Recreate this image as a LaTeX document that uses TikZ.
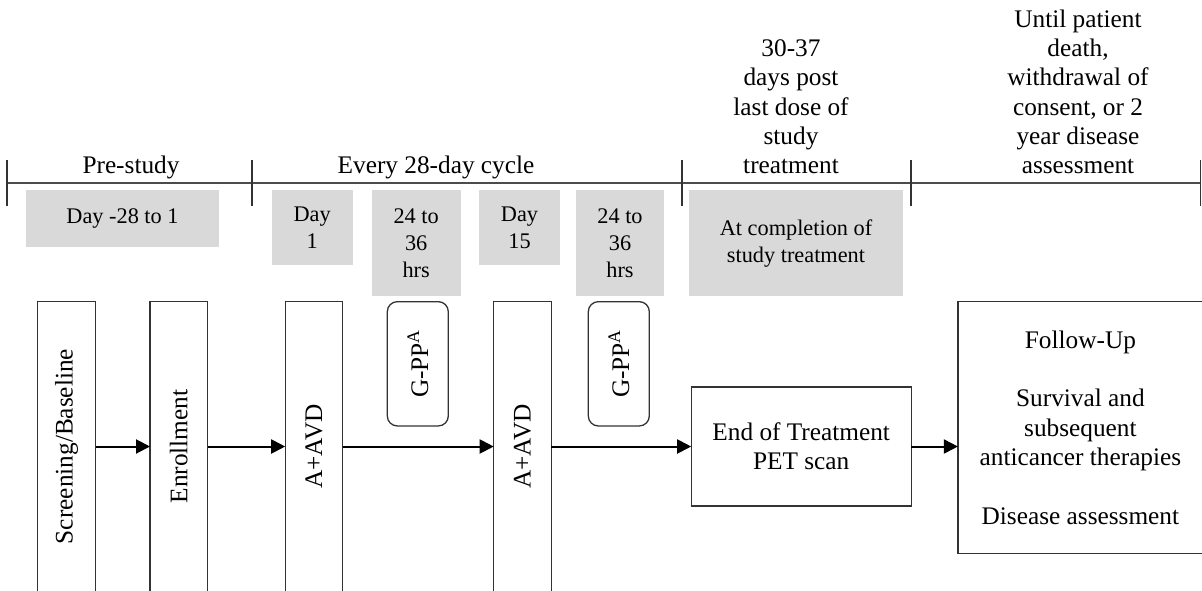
\documentclass[tikz,border=0pt]{standalone}
\usepackage{fontspec}
\setmainfont{Liberation Serif}
\usetikzlibrary{positioning,arrows.meta}
\definecolor{timegray}{HTML}{D9D9D9}
\newcommand{\bigfont}{\fontsize{25.3}{29.3}\selectfont}
\newcommand{\smallfont}{\fontsize{22.3}{26.8}\selectfont}

\begin{document}
\begin{tikzpicture}[x=1pt,y=-1pt,>={Triangle[length=14pt,width=14pt]}]
\tikzset{
  phase/.style={font=\bigfont,align=center,anchor=south,inner sep=0pt},
  timing/.style={fill=timegray,font=\smallfont,align=center,anchor=north,inner sep=0pt},
  procbox/.style={draw=black!80,line width=1.3pt,font=\bigfont,align=center,inner sep=0pt,outer sep=0pt},
  drugbox/.style={procbox,rounded corners=10pt,minimum width=61pt,minimum height=124.3pt},
  tallbox/.style={procbox,minimum width=57.5pt,minimum height=290pt},
  flow/.style={->,line width=2pt}
}
\useasboundingbox (0,0) rectangle (1202,590);
% time line with its phases
\draw[line width=2.2pt,black!70] (7,183) -- (1201,183);
\foreach \x in {7,252,682,911,1200.5}
  \draw[line width=1.4pt,black!80] (\x,160) -- (\x,206);
\node[phase] (hpre) at (131,182.8) {Pre-study\strut};
\node[phase] (hcycle) at (436,182.8) {Every 28-day cycle\strut};
\node[phase] (hpost) at (791,182.8) {30-37\\days post\\last dose of\\study\\treatment\strut};
\node[phase] (hfollow) at (1078,182.8) {Until patient\\death,\\withdrawal of\\consent, or 2\\year disease\\assessment\strut};
% timing boxes
\node[timing,minimum width=193pt,minimum height=57pt] (d28) at (122.5,190) {Day -28 to 1};
\node[timing,minimum width=81pt,minimum height=75pt] (day1) at (312.2,190) {Day\\1};
\node[timing,minimum width=89pt,minimum height=106pt] (hrs1) at (416.2,190) {24 to\\36\\hrs};
\node[timing,minimum width=81pt,minimum height=75pt] (day15) at (519.5,190) {Day\\15};
\node[timing,minimum width=88.6pt,minimum height=106pt] (hrs2) at (620,190) {24 to\\36\\hrs};
\node[timing,minimum width=213.4pt,minimum height=106pt] (compl) at (796,190) {At completion of\\study treatment};
% study flow
\node[tallbox,minimum width=58.4pt] (scr) at (66.5,446.5) {\rotatebox{90}{Screening/Baseline}};
\node[tallbox] (enr) [right=54.3pt of scr] {\rotatebox{90}{Enrollment}};
\node[tallbox] (avd1) [right=77.7pt of enr] {\rotatebox{90}{A+AVD}};
\node[tallbox] (avd2) [right=151pt of avd1] {\rotatebox{90}{A+AVD}};
\node[procbox,minimum width=220pt,minimum height=119pt] (eot) [right=140pt of avd2] {End of Treatment\\PET scan};
\node[procbox,minimum width=245pt,minimum height=252pt] (fu) [right=46.7pt of eot,yshift=19pt]
     {Follow-Up\\[29.5pt]Survival and\\subsequent\\anticancer therapies\\[29.5pt]Disease assessment};
\node[drugbox] (gpp1) at (417.8,363.8) {\rotatebox{90}{G-PP\textsuperscript{A}}};
\node[drugbox] (gpp2) at (618.8,363.8) {\rotatebox{90}{G-PP\textsuperscript{A}}};
\draw[flow] (scr) -- (enr);
\draw[flow] (enr) -- (avd1);
\draw[flow] (avd1) -- (avd2);
\draw[flow] (avd2) -- (eot);
\draw[flow] (eot.east) -- (eot.east -| fu.west);
\end{tikzpicture}
\end{document}
